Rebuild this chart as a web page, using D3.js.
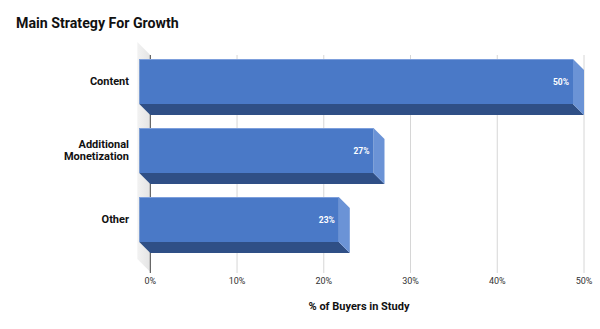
<!DOCTYPE html>
<html>
<head>
<meta charset="utf-8">
<script src="https://cdn.jsdelivr.net/npm/d3@7"></script>
<style>
  html, body { margin: 0; padding: 0; background: #fff; }
  svg { display: block; font-family: Roboto, "Noto Sans", sans-serif; }
</style>
</head>
<body>
<svg id="chart" width="600" height="329"></svg>
<script>
// Data
const categories = ["Content", "Additional Monetization", "Other"];
const categoryLines = [["Content"], ["Additional", "Monetization"], ["Other"]];
const values = [50, 27, 23];
const tickValues = [0, 10, 20, 30, 40, 50];
const tickLabels = ["0%", "10%", "20%", "30%", "40%", "50%"];

const svg = d3.select("#chart");
const depth = 11;

const x = d3.scaleLinear().domain([0, 50]).range([150.3, 584]);
const y = d3.scaleBand().domain(categories).range([52.1, 259.9])
  .paddingInner(13 / 69).paddingOuter(0.1);

// Title
svg.append("text")
  .attr("x", 16).attr("y", 28)
  .attr("font-size", 14.2).attr("font-weight", 700).attr("fill", "#111")
  .text("Main Strategy For Growth");

// Left wall of the 3D plot area
const defs = svg.append("defs");
const wg = defs.append("linearGradient").attr("id", "wall").attr("x1", 0).attr("x2", 1).attr("y1", 0).attr("y2", 0);
wg.append("stop").attr("offset", 0).attr("stop-color", "#f2f2f2");
wg.append("stop").attr("offset", 1).attr("stop-color", "#e4e4e4");
const w0 = x(0);
svg.append("polygon")
  .attr("points", [[w0 - 13, 42], [w0, 55], [w0, 272], [w0 - 13, 259]].map(p => p.join(",")).join(" "))
  .attr("fill", "url(#wall)");

// Gridlines
svg.append("g").selectAll("line").data(tickValues).join("line")
  .attr("x1", d => x(d)).attr("x2", d => x(d))
  .attr("y1", 55).attr("y2", 273)
  .attr("stroke", d => d === 0 ? "#444" : "#d6d6d6")
  .attr("stroke-width", 1);

// Tick labels
svg.append("g").selectAll("text").data(tickValues).join("text")
  .attr("x", d => x(d)).attr("y", 284)
  .attr("text-anchor", "middle")
  .attr("font-size", 9).attr("fill", "#333")
  .text((d, i) => tickLabels[i]);

// Axis title
svg.append("text")
  .attr("x", 359).attr("y", 310)
  .attr("text-anchor", "middle")
  .attr("font-size", 11).attr("font-weight", 700).attr("fill", "#111")
  .text("% of Buyers in Study");

// 3D bars
const bars = svg.append("g");
categories.forEach((c, i) => {
  const v = values[i];
  const yt = y(c), yb = y(c) + y.bandwidth();
  const x0 = x(0), xv = x(v);
  const g = bars.append("g");
  // bottom face
  g.append("polygon")
    .attr("points", [[x0 - depth, yb - depth], [xv - depth, yb - depth], [xv, yb], [x0, yb]].map(p => p.join(",")).join(" "))
    .attr("fill", "#2f4f86");
  // side face
  g.append("polygon")
    .attr("points", [[xv - depth, yt], [xv, yt + depth], [xv, yb], [xv - depth, yb - depth]].map(p => p.join(",")).join(" "))
    .attr("fill", "#6b93d6");
  // front face
  g.append("rect")
    .attr("x", x0 - depth).attr("y", yt)
    .attr("width", xv - x0).attr("height", yb - yt - depth)
    .attr("fill", "#4a79c7");
  g.append("line")
    .attr("x1", x0 - depth).attr("x2", xv - depth)
    .attr("y1", yt + 0.5).attr("y2", yt + 0.5)
    .attr("stroke", "#7d9fdc").attr("stroke-width", 1);
  // value label
  g.append("text")
    .attr("x", xv - depth - 4).attr("y", yt + (yb - yt - depth) / 2 + 3)
    .attr("text-anchor", "end")
    .attr("font-size", 8.5).attr("font-weight", 700).attr("fill", "#fff")
    .text(v + "%");
});

// Category labels (multi-line labels drawn as separate text elements)
categories.forEach((c, i) => {
  const lines = categoryLines[i];
  const cy = y(c) + (y.bandwidth() - depth) / 2;
  const lh = 12;
  lines.forEach((ln, j) => {
    svg.append("text")
      .attr("text-anchor", "end")
      .attr("font-size", 11).attr("font-weight", 700).attr("fill", "#111")
      .attr("x", 129)
      .attr("y", cy + 3.8 + (j - (lines.length - 1) / 2) * lh)
      .text(ln);
  });
});
</script>
</body>
</html>
